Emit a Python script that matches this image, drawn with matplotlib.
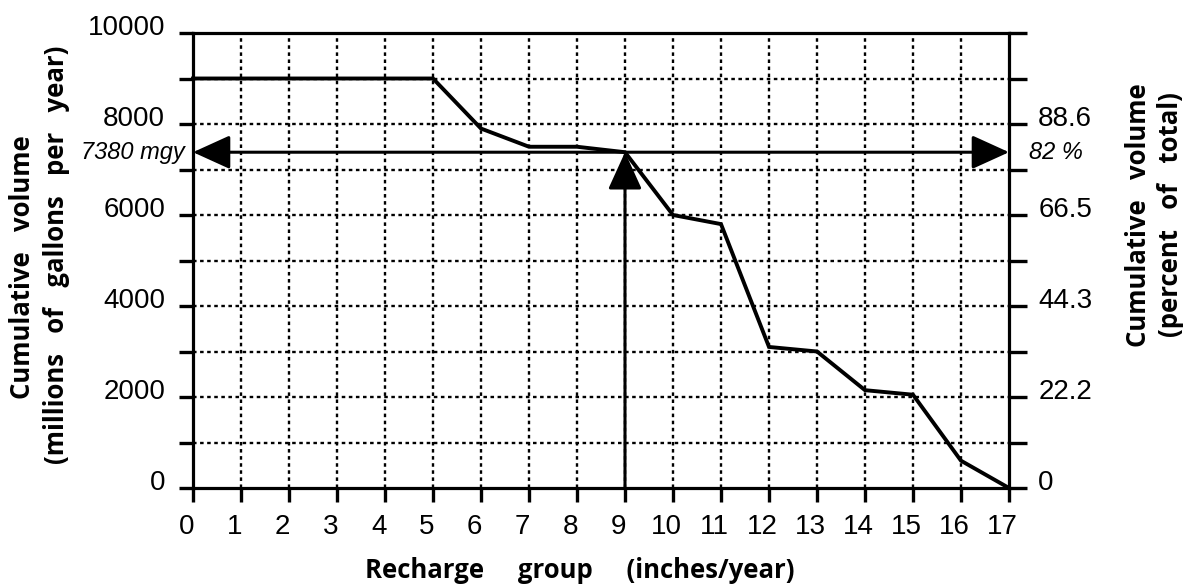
import matplotlib
matplotlib.use("Agg")
import matplotlib.pyplot as plt
import matplotlib.transforms as mtransforms

# ---- data ----
recharge_group = [0, 1, 2, 3, 4, 5, 6, 7, 8, 9, 10, 11, 12, 13, 14, 15, 16, 17]
cumulative_volume = [9000, 9000, 9000, 9000, 9000, 9000, 7900, 7500, 7500, 7380,
                     6000, 5800, 3100, 3000, 2150, 2050, 600, 0]
left_tick_values = list(range(0, 10001, 1000))
left_tick_labels = ["0", "", "2000", "", "4000", "", "6000", "", "8000", "", "10000"]
right_tick_labels = ["0", "", "22.2", "", "44.3", "", "66.5", "", "88.6", "", ""]
x_tick_values = list(range(0, 18))
marker_group = 9
marker_volume = 7380
marker_left_text = "7380 mgy"
marker_right_text = "82 %"

TICK_FONT = ["Liberation Sans", "DejaVu Sans"]
TITLE_FONT = ["Open Sans", "DejaVu Sans"]

fig = plt.figure(figsize=(11.92, 5.85), dpi=100)
ax = fig.add_axes([193 / 1192, 1 - 488 / 585, (1009 - 193) / 1192, (488 - 33) / 585])

ax.set_xlim(0, 17)
ax.set_ylim(0, 10000)

# grid
grid_kw = dict(color="black", lw=1.7, linestyle=(0, (1.5, 1.5)), zorder=1)
for xv in x_tick_values[1:-1]:
    ax.axvline(xv, **grid_kw)
for yv in left_tick_values[1:-1]:
    ax.axhline(yv, **grid_kw)

# data line
ax.plot(recharge_group, cumulative_volume, color="black", lw=2.8,
        solid_joinstyle="miter", zorder=4, clip_on=False)

# arrows
ax.annotate("", xy=(0, marker_volume), xytext=(17, marker_volume),
            arrowprops=dict(arrowstyle="<|-|>,head_length=0.66,head_width=0.3",
                            mutation_scale=35, lw=2.2, color="black",
                            shrinkA=0, shrinkB=0), zorder=5)
ax.annotate("", xy=(marker_group, marker_volume), xytext=(marker_group, 0),
            arrowprops=dict(arrowstyle="-|>,head_length=0.66,head_width=0.3",
                            mutation_scale=35, lw=2.2, color="black",
                            shrinkA=0, shrinkB=0), zorder=5)

ax.text(-0.17, marker_volume, marker_left_text, ha="right", va="center",
        fontsize=17, style="italic", family=TICK_FONT, zorder=6)
ax.text(17.42, marker_volume, marker_right_text, ha="left", va="center",
        fontsize=17, style="italic", family=TICK_FONT, zorder=6,
        clip_on=False)

# spines
for s in ax.spines.values():
    s.set_linewidth(2.3)
    s.set_zorder(6)

# ticks
ax.set_xticks(x_tick_values)
ax.set_xticklabels([str(v) for v in x_tick_values])
ax.set_yticks(left_tick_values)
ax.set_yticklabels(left_tick_labels)
ax.tick_params(axis="both", direction="out", length=10, width=2.4,
               labelsize=20, colors="black")
ax.tick_params(axis="x", pad=9)
ax.tick_params(axis="y", pad=10)
for lab in ax.get_xticklabels() + ax.get_yticklabels():
    lab.set_family(TICK_FONT)

ax2 = ax.twinx()
ax2.set_ylim(0, 10000)
ax2.set_yticks(left_tick_values)
ax2.set_yticklabels(right_tick_labels)
ax2.tick_params(axis="y", direction="out", length=13, width=2.4,
                labelsize=20, pad=8)
for s in ax2.spines.values():
    s.set_visible(False)
for lab in ax2.get_yticklabels():
    lab.set_family(TICK_FONT)

# label offsets
up = mtransforms.ScaledTranslation(0, 6 / 72, fig.dpi_scale_trans)
for lab in ax.get_yticklabels() + ax2.get_yticklabels():
    lab.set_transform(lab.get_transform() + up)
shift_left = mtransforms.ScaledTranslation(-4.5 / 72, 0, fig.dpi_scale_trans)
for lab in ax.get_xticklabels():
    lab.set_transform(lab.get_transform() + shift_left)

# axis titles
title_kw = dict(fontsize=18.5, fontweight="bold", family=TITLE_FONT,
                ha="center", va="center")
fig.text(580 / 1192, 1 - 570 / 585, "Recharge     group     (inches/year)",
         **title_kw)
fig.text(23 / 1192, 1 - 267 / 585, "Cumulative   volume", rotation=90, **title_kw)
fig.text(57 / 1192, 1 - 255 / 585, "(millions   of   gallons   per   year)",
         rotation=90, **title_kw)
fig.text(1139 / 1192, 1 - 215 / 585, "Cumulative   volume", rotation=90, **title_kw)
fig.text(1170 / 1192, 1 - 215 / 585, "(percent   of   total)", rotation=90,
         **title_kw)

fig.savefig("out.png", dpi=100)
